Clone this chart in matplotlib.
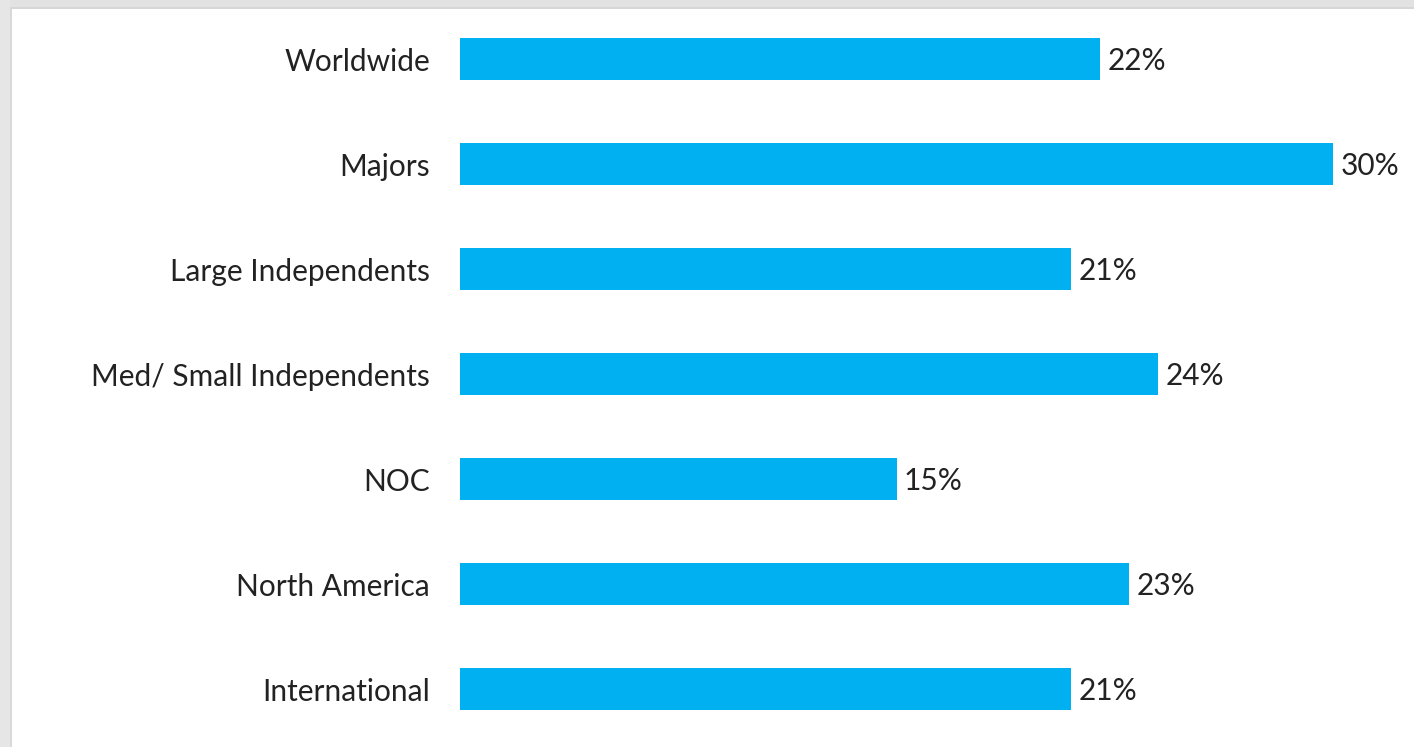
import matplotlib.pyplot as plt
from matplotlib.patches import Rectangle

categories = ["Worldwide", "Majors", "Large Independents", "Med/ Small Independents",
              "NOC", "North America", "International"]
values = [22, 30, 21, 24, 15, 23, 21]

W, H = 1414, 747
fig = plt.figure(figsize=(W / 100, H / 100), dpi=100)
fig.patch.set_facecolor("white")

# soft frame along top and left edges
fig.add_artist(Rectangle((0, 1 - 8 / H), 1, 8 / H, transform=fig.transFigure,
                         facecolor="#e2e2e2", edgecolor="none", zorder=0))
fig.add_artist(Rectangle((0, 1 - 9 / H), 1, 1.5 / H, transform=fig.transFigure,
                         facecolor="#d6d6d6", edgecolor="none", zorder=0))
fig.add_artist(Rectangle((0, 0), 10 / W, 1, transform=fig.transFigure,
                         facecolor="#e6e6e6", edgecolor="none", zorder=0))
fig.add_artist(Rectangle((10 / W, 0), 2 / W, 1 - 8 / H, transform=fig.transFigure,
                         facecolor="#d8d8d8", edgecolor="none", zorder=0))

left, right = 460, 1333
top, bottom = 59 - 52.5, 689 + 52.5
ax = fig.add_axes([left / W, 1 - bottom / H, (right - left) / W, (bottom - top) / H])
ax.set_facecolor("none")

y = list(range(len(categories)))
ax.barh(y, values, height=0.4, color="#00b0f0")
ax.set_xlim(0, 30)
ax.set_ylim(len(categories) - 0.5, -0.5)

fs = 21.5
for yi, v in zip(y, values):
    ax.text(v + 0.25, yi + 0.02, f"{v}%", va="center", ha="left", fontsize=fs,
            family="Lato", color="#222222", clip_on=False)

ax.set_yticks(y)
ax.set_yticklabels(categories, fontsize=fs, family="Lato", color="#222222")
ax.tick_params(axis="y", length=0, pad=21.5)
ax.set_xticks([])
for s in ax.spines.values():
    s.set_visible(False)

fig.savefig("out.png", dpi=100, facecolor="white")
